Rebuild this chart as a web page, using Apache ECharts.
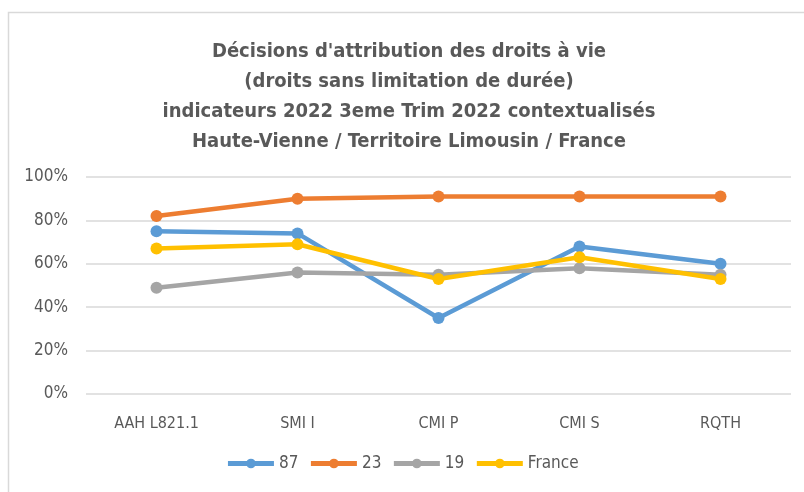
<!DOCTYPE html>
<html>
<head>
<meta charset="utf-8">
<script src="https://cdn.jsdelivr.net/npm/echarts@6/dist/echarts.min.js"></script>
<style>
  html, body { margin: 0; padding: 0; background: #fff; }
  #chart { width: 804px; height: 492px; }
</style>
</head>
<body>
<div id="chart"></div>
<script>
const categories = ['AAH L821.1', 'SMI I', 'CMI P', 'CMI S', 'RQTH'];
const s87 = [75, 74, 35, 68, 60];
const s23 = [82, 90, 91, 91, 91];
const s19 = [49, 56, 55, 58, 55];
const sFrance = [67, 69, 53, 63, 53];
const yTicks = [0, 20, 40, 60, 80, 100];

const font = "'Liberation Sans Narrow', 'DejaVu Sans Condensed', 'Liberation Sans', sans-serif";

function line(name, data, color) {
    return {
        name: name, type: 'line', data: data,
        symbol: 'circle', symbolSize: 12,
        itemStyle: { color: color },
        lineStyle: { color: color, width: 4.5 }
    };
}

var chart = echarts.init(document.getElementById('chart'));
chart.setOption({
    animation: false,
    textStyle: { fontFamily: font },
    title: {
        text: "Décisions d'attribution des droits à vie\n(droits sans limitation de durée)\nindicateurs 2022 3eme Trim 2022 contextualisés\nHaute-Vienne / Territoire Limousin / France",
        left: 404, textAlign: 'center', top: 32,
        textStyle: { fontFamily: font, fontSize: 20, fontWeight: 'bold', color: '#595959', lineHeight: 30 }
    },
    graphic: [{
        type: 'rect', shape: { x: 8.5, y: 12.5, width: 820, height: 500 },
        style: { fill: 'none', stroke: '#d9d9d9', lineWidth: 1.5 }, silent: true
    }],
    legend: {
        bottom: 15, left: 'center', itemWidth: 46, itemHeight: 12, itemGap: 10,
        lineStyle: { width: 5 },
        textStyle: { fontFamily: font, fontSize: 17, color: '#595959' },
        data: ['87', '23', '19', 'France']
    },
    grid: { left: 86, right: 13, top: 177, bottom: 98 },
    xAxis: {
        type: 'category', data: categories, boundaryGap: true,
        axisLine: { show: false }, axisTick: { show: false },
        axisLabel: { margin: 22, fontSize: 16, color: '#595959', fontFamily: font }
    },
    yAxis: {
        type: 'value', min: yTicks[0], max: yTicks[yTicks.length - 1], interval: 20,
        axisLine: { show: false }, axisTick: { show: false },
        axisLabel: { formatter: '{value}%', fontSize: 17, color: '#595959', margin: 18, fontFamily: font },
        splitLine: { lineStyle: { color: '#d9d9d9', width: 1.5 } }
    },
    series: [
        line('87', s87, '#5b9bd5'),
        line('23', s23, '#ed7d31'),
        line('19', s19, '#a5a5a5'),
        line('France', sFrance, '#ffc000')
    ]
});
</script>
</body>
</html>
